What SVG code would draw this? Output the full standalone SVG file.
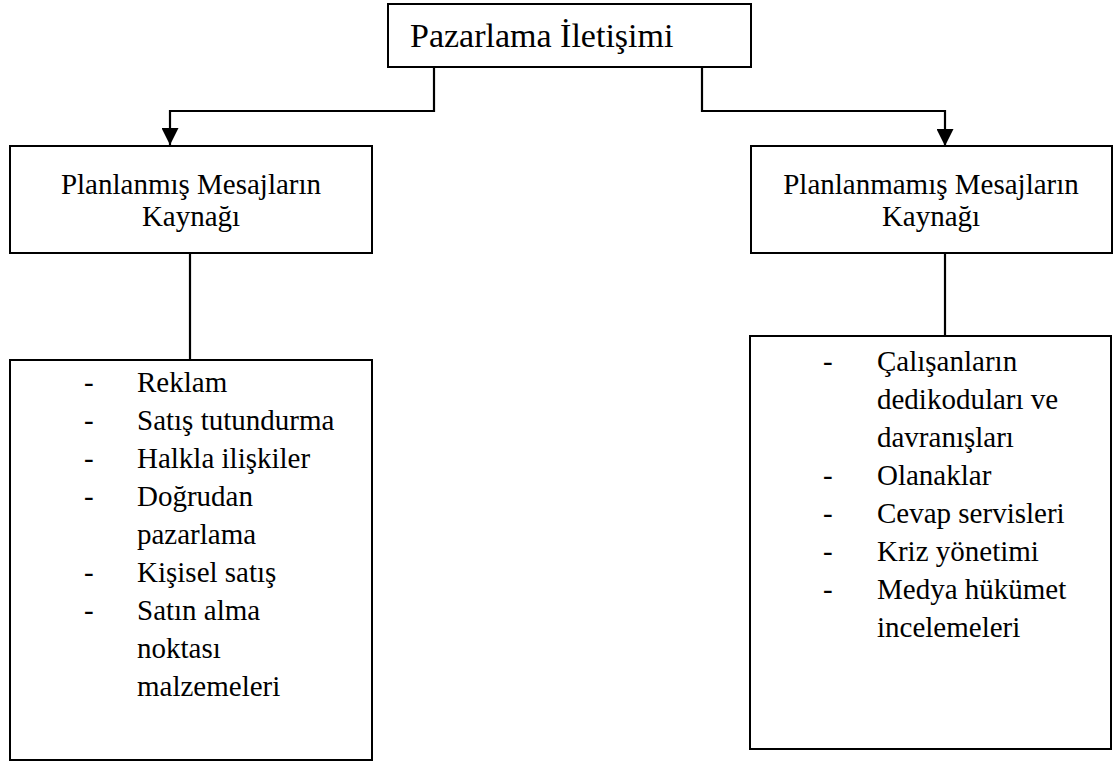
<svg xmlns="http://www.w3.org/2000/svg" width="1114" height="767" viewBox="0 0 1114 767">
<defs>
<style>
.box{fill:#fff;stroke:#000;stroke-width:2}
.t{font-family:"Liberation Serif","Times New Roman",serif;fill:#000}
.lbl{font-size:29px;text-anchor:middle}
.li{font-size:29px}
.conn{fill:none;stroke:#000;stroke-width:2.2}
</style>
<marker id="arr" markerUnits="userSpaceOnUse" markerWidth="18" markerHeight="17" viewBox="0 0 18 17" refX="17" refY="8.5" orient="auto">
<path d="M0,0 L17,8.5 L0,17 z" fill="#000"/>
</marker>
</defs>
<rect width="1114" height="767" fill="#fff"/>
<g id="connectors">
<path class="conn" d="M434,67 V111 H170 V145" marker-end="url(#arr)"/>
<path class="conn" d="M702,67 V111 H945 V146" marker-end="url(#arr)"/>
<path class="conn" d="M190,253 V360"/>
<path class="conn" d="M945,253 V336"/>
</g>
<g id="root">
<rect class="box" x="388" y="4" width="363" height="63"/>
<text class="t" x="410" y="47" font-size="34">Pazarlama İletişimi</text>
</g>
<g id="planned">
<rect class="box" x="10" y="146" width="362" height="107"/>
<text class="t lbl" x="191" y="194">Planlanmış Mesajların</text>
<text class="t lbl" x="191" y="226">Kaynağı</text>
</g>
<g id="unplanned">
<rect class="box" x="751" y="146" width="361" height="107"/>
<text class="t lbl" x="931" y="194">Planlanmamış Mesajların</text>
<text class="t lbl" x="931" y="226">Kaynağı</text>
</g>
<g id="planned-list">
<rect class="box" x="10" y="360" width="362" height="400"/>
<g class="t li">
<text x="84" y="392">-</text><text x="137" y="392">Reklam</text>
<text x="84" y="430">-</text><text x="137" y="430">Satış tutundurma</text>
<text x="84" y="468">-</text><text x="137" y="468">Halkla ilişkiler</text>
<text x="84" y="506">-</text><text x="137" y="506">Doğrudan</text>
<text x="137" y="544">pazarlama</text>
<text x="84" y="582">-</text><text x="137" y="582">Kişisel satış</text>
<text x="84" y="620">-</text><text x="137" y="620">Satın alma</text>
<text x="137" y="658">noktası</text>
<text x="137" y="696">malzemeleri</text>
</g>
</g>
<g id="unplanned-list">
<rect class="box" x="750" y="336" width="361" height="413"/>
<g class="t li">
<text x="823" y="371">-</text><text x="877" y="371">Çalışanların</text>
<text x="877" y="409">dedikoduları ve</text>
<text x="877" y="447">davranışları</text>
<text x="823" y="485">-</text><text x="877" y="485">Olanaklar</text>
<text x="823" y="523">-</text><text x="877" y="523">Cevap servisleri</text>
<text x="823" y="561">-</text><text x="877" y="561">Kriz yönetimi</text>
<text x="823" y="599">-</text><text x="877" y="599">Medya hükümet</text>
<text x="877" y="637">incelemeleri</text>
</g>
</g>
</svg>
